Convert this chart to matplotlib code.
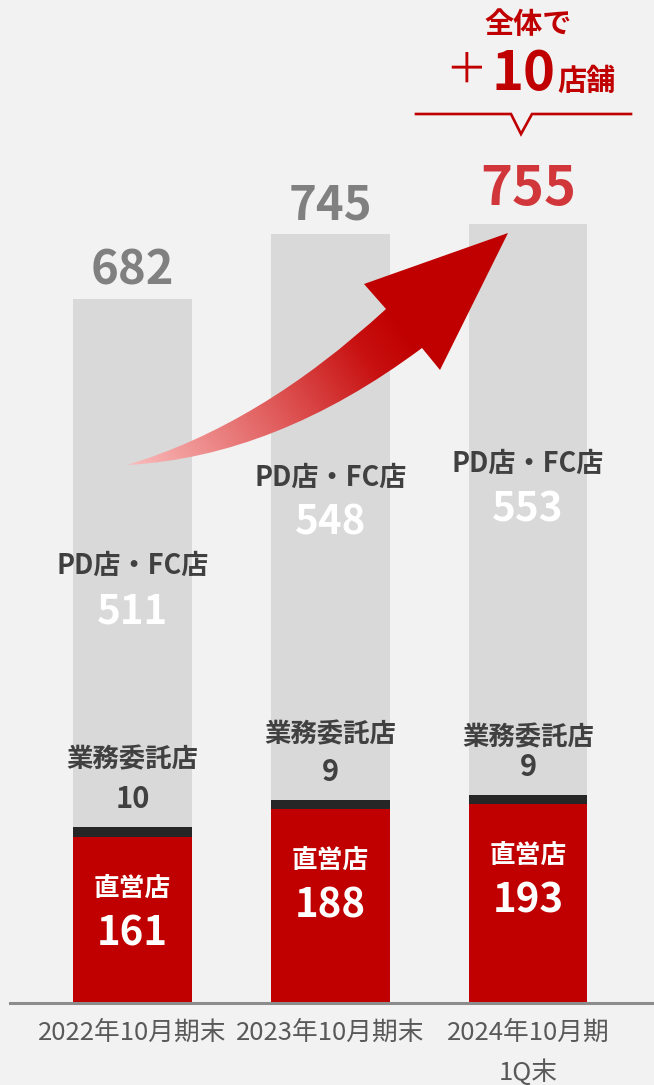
import numpy as np
import matplotlib.pyplot as plt
from matplotlib.path import Path
from matplotlib.patches import PathPatch
from matplotlib.colors import LinearSegmentedColormap

plt.rcParams['font.family'] = ['Noto Sans CJK JP', 'DejaVu Sans']

# data
categories = ['2022年10月期末', '2023年10月期末', '2024年10月期\n1Q末']
direct = [161, 188, 193]        # 直営店
outsourced = [10, 9, 9]         # 業務委託店
pd_fc = [511, 548, 553]         # PD店・FC店
totals = [682, 745, 755]

RED = '#c00000'
DARK = '#262626'
LIGHT = '#d9d9d9'
BG = '#f2f2f2'

W, H = 654, 1085
base_px = 1003
scale = 1.032  # px per store

fig = plt.figure(figsize=(W / 100, H / 100), dpi=100, facecolor=BG)
ax = fig.add_axes([10 / W, (H - base_px) / H, (W - 10) / W, base_px / H])
ax.set_facecolor(BG)

x = np.arange(len(categories))
bw = 0.60
direct = np.array(direct)
outsourced = np.array(outsourced)
pd_fc = np.array(pd_fc)

ax.bar(x, direct, bw, color=RED, zorder=2)
ax.bar(x, outsourced, bw, bottom=direct, color=DARK, zorder=2)
ax.bar(x, pd_fc, bw, bottom=direct + outsourced, color=LIGHT, zorder=2)

ax.set_xlim((10 - 132.5) / 197.75, (W - 132.5) / 197.75)
ax.set_ylim(0, base_px / scale)

for s in ['top', 'right', 'left']:
    ax.spines[s].set_visible(False)
ax.spines['bottom'].set_color('#8c8c8c')
ax.spines['bottom'].set_linewidth(2.2)
ax.spines['bottom'].set_zorder(3)
ax.set_yticks([])
ax.set_xticks(x)
ax.set_xticklabels(categories, fontsize=18.5, color='#595959', linespacing=1.65)
ax.tick_params(axis='x', length=0, pad=12)

# segment labels (vertical placement tweaks per bar)
pd_text_y = [379, 465, 478]
out_label_off = [65, 63, 55]
for i in range(len(x)):
    ax.text(x[i], direct[i] - 50, '直営店', ha='center', va='center',
            color='white', fontsize=18.5, fontweight='bold', zorder=4)
    ax.text(x[i], direct[i] - 94, str(direct[i]), ha='center', va='center',
            color='white', fontsize=29, fontweight='bold', zorder=4)
    top_dark = direct[i] + outsourced[i]
    ax.text(x[i], top_dark + out_label_off[i], '業務委託店', ha='center', va='center',
            color='#404040', fontsize=19, fontweight='bold', zorder=4)
    ax.text(x[i], top_dark + 27, str(outsourced[i]), ha='center', va='center',
            color='#404040', fontsize=21, fontweight='bold', zorder=4)
    ax.text(x[i], pd_text_y[i] + 44, 'PD店・FC店', ha='center', va='center',
            color='#404040', fontsize=19.5, fontweight='bold', zorder=4)
    ax.text(x[i], pd_text_y[i], str(pd_fc[i]), ha='center', va='center',
            color='white', fontsize=29, fontweight='bold', zorder=4)

for i, t in enumerate(totals):
    last = i == len(totals) - 1
    ax.text(x[i], t + (33 if last else 28), str(t), ha='center', va='center',
            color='#d0363a' if last else '#808080',
            fontsize=39 if last else 34, fontweight='bold', zorder=4)

# overlay in pixel coords for the arrow and callout
ov = fig.add_axes([0, 0, 1, 1], zorder=5)
ov.set_facecolor('none')
ov.axis('off')

T = (127, 465)
N1 = (386, 309)
B1 = (364, 284)
TIP = (508, 233)
B2 = (440, 370)
N2 = (422, 348)
verts = [T, (260, 425), N1, B1, TIP, B2, N2, (276, 457), T, T]
codes = [Path.MOVETO, Path.CURVE3, Path.CURVE3, Path.LINETO, Path.LINETO,
         Path.LINETO, Path.LINETO, Path.CURVE3, Path.CURVE3, Path.CLOSEPOLY]
arrow = PathPatch(Path(verts, codes), facecolor='none', edgecolor='none')
ov.add_patch(arrow)

gx, gy = np.meshgrid(np.linspace(120, 515, 300), np.linspace(225, 475, 200))
proj = (gx - 127) * 0.83 - (gy - 465) * 0.56
proj = np.clip(proj / 307, 0, 1)
cmap = LinearSegmentedColormap.from_list(
    'arr', [(0, '#fbbcbc'), (0.5, '#e05a5a'), (0.85, '#c81010'), (1, '#c00000')])
im = ov.imshow(proj, extent=(120, 515, 475, 225), cmap=cmap, aspect='auto',
               origin='upper', interpolation='bilinear', zorder=5)
im.set_clip_path(arrow)

ov.plot([416, 511, 521, 532, 631], [114, 114, 134, 114, 114], color=RED,
        lw=1.9, solid_joinstyle='miter', zorder=6)
ov.text(528, 24, '全体で', ha='center', va='center', color=RED,
        fontsize=21, fontweight='bold', zorder=6)
ov.text(466, 71, '＋', ha='center', va='center', color=RED,
        fontsize=30, zorder=6)
ov.text(523, 90, '10', ha='center', va='baseline', color=RED,
        fontsize=39, fontweight='bold', zorder=6)
ov.text(557, 90, '店舗', ha='left', va='baseline', color=RED,
        fontsize=21, fontweight='bold', zorder=6)

ov.set_xlim(0, W)
ov.set_ylim(H, 0)

fig.savefig('out.png', dpi=100, facecolor=BG)
